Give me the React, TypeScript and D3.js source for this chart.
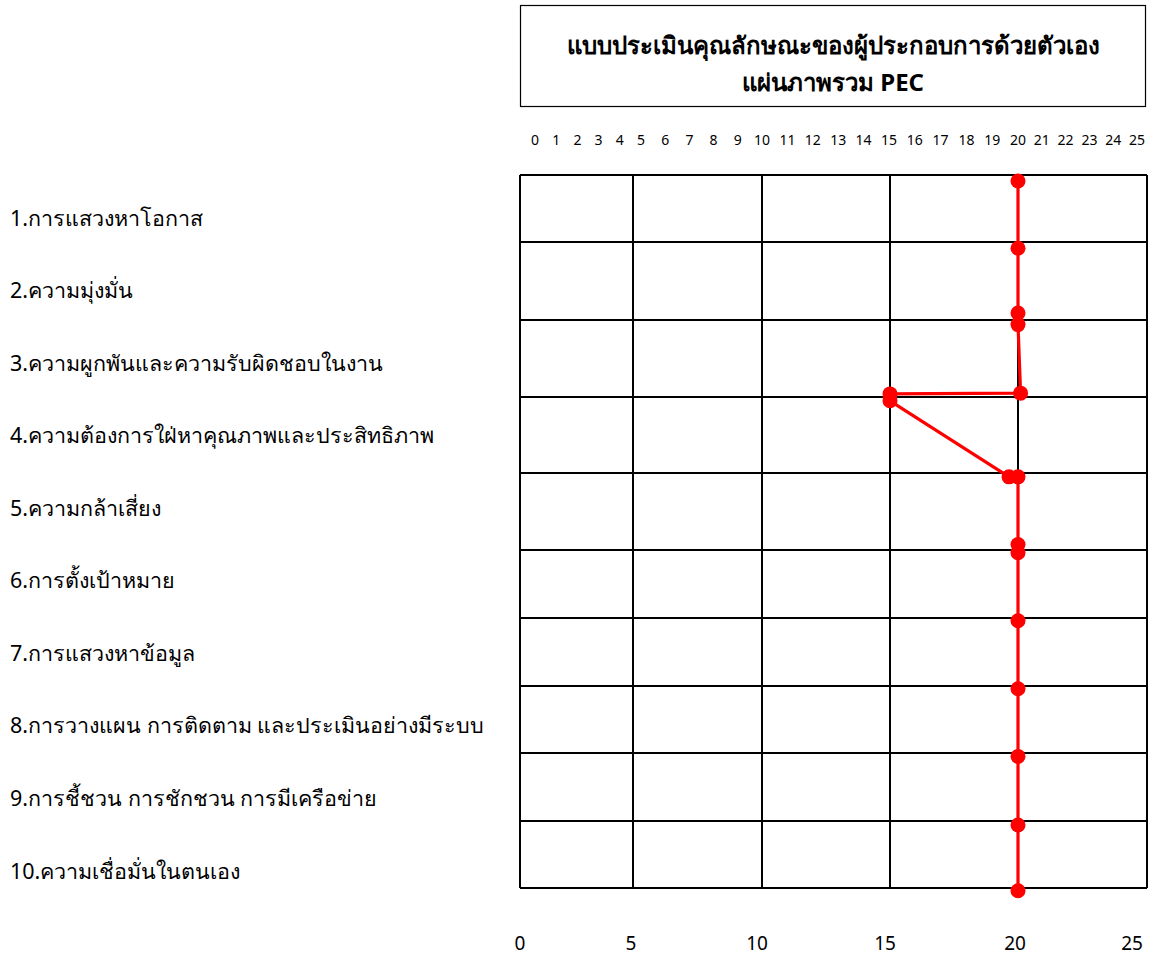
import React from 'react';
import * as d3 from 'd3';

const categories = [
  '1.การแสวงหาโอกาส',
  '2.ความมุ่งมั่น',
  '3.ความผูกพันและความรับผิดชอบในงาน',
  '4.ความต้องการใฝ่หาคุณภาพและประสิทธิภาพ',
  '5.ความกล้าเสี่ยง',
  '6.การตั้งเป้าหมาย',
  '7.การแสวงหาข้อมูล',
  '8.การวางแผน การติดตาม และประเมินอย่างมีระบบ',
  '9.การชี้ชวน การชักชวน การมีเครือข่าย',
  '10.ความเชื่อมั่นในตนเอง',
];
const gridTicks = [0, 5, 10, 15, 20, 25];
const topTicks = [0, 1, 2, 3, 4, 5, 6, 7, 8, 9, 10, 11, 12, 13, 14, 15, 16, 17, 18, 19, 20, 21, 22, 23, 24, 25];
const rowBoundaries = [0, 1, 2, 3, 4, 5, 6, 7, 8, 9, 10];
const scoreValues = [20, 20, 20, 20, 20.1, 15, 15, 19.65, 20, 20, 20, 20, 20, 20, 20, 20];
const scorePositions = [0.09, 1.08, 1.91, 2.06, 2.95, 2.96, 3.05, 4.05, 4.05, 4.93, 5.04, 6.04, 7.04, 8.05, 9.06, 10.04];
const titleLines = ['แบบประเมินคุณลักษณะของผู้ประกอบการด้วยตัวเอง', 'แผ่นภาพรวม PEC'];

const W = 1149;
const H = 955;
const FONT = "'Noto Sans', Tahoma, 'DejaVu Sans', sans-serif";

export default function App() {
  const x = d3.scaleLinear().domain(gridTicks).range([520, 633, 762, 890, 1018, 1147]);
  const xTop = d3.scaleLinear().domain(gridTicks).range([535, 641, 762, 889, 1018, 1137]);
  const xBottom = d3.scaleLinear().domain(gridTicks).range([520, 631, 757, 885, 1015, 1132]);
  const y = d3.scaleLinear().domain(rowBoundaries).range([175, 242, 320, 397, 473, 550, 618, 686, 753, 821, 888]);
  const yLabel = d3.scalePoint<string>().domain(categories).range([217, 870]);

  const pts = scoreValues.map((v, i) => [x(v), y(scorePositions[i])] as [number, number]);
  const line = d3.line<[number, number]>()(pts) || '';

  return (
    <svg width={W} height={H} style={{ position: 'absolute', left: 0, top: 0, background: '#fff' }} fontFamily={FONT}>
      <rect x={0} y={0} width={W} height={H} fill="#fff" />
      {/* title box */}
      <rect x={520.5} y={5.5} width={625} height={101} fill="none" stroke="#000" strokeWidth={1.2} />
      {titleLines.map((t, i) => (
        <text key={i} x={833} y={44 + i * 37} textAnchor="middle" dominantBaseline="central" fontSize={24} fontWeight="bold" fill="#000">
          {t}
        </text>
      ))}
      {/* top ticks */}
      {topTicks.map((t) => (
        <text key={t} x={xTop(t)} y={139} textAnchor="middle" dominantBaseline="central" fontSize={14} fill="#000">
          {t}
        </text>
      ))}
      {/* grid */}
      {rowBoundaries.map((r) => (
        <line key={'h' + r} x1={x(0)} x2={x(25)} y1={y(r)} y2={y(r)} stroke="#000" strokeWidth={2} />
      ))}
      {gridTicks.map((t) => (
        <line key={'v' + t} x1={x(t)} x2={x(t)} y1={y(0)} y2={y(10)} stroke="#000" strokeWidth={2} />
      ))}
      {/* category labels */}
      {categories.map((c) => (
        <text key={c} x={10} y={yLabel(c)} dominantBaseline="central" fontSize={21.5} fill="#000">
          {c}
        </text>
      ))}
      {/* bottom ticks */}
      {gridTicks.map((t) => (
        <text key={'b' + t} x={xBottom(t)} y={943} textAnchor="middle" dominantBaseline="central" fontSize={19} fill="#000">
          {t}
        </text>
      ))}
      {/* score line */}
      <path d={line} fill="none" stroke="#ff0000" strokeWidth={3.2} strokeLinejoin="round" />
      {pts.map((p, i) => (
        <circle key={i} cx={p[0]} cy={p[1]} r={7.5} fill="#ff0000" />
      ))}
    </svg>
  );
}
